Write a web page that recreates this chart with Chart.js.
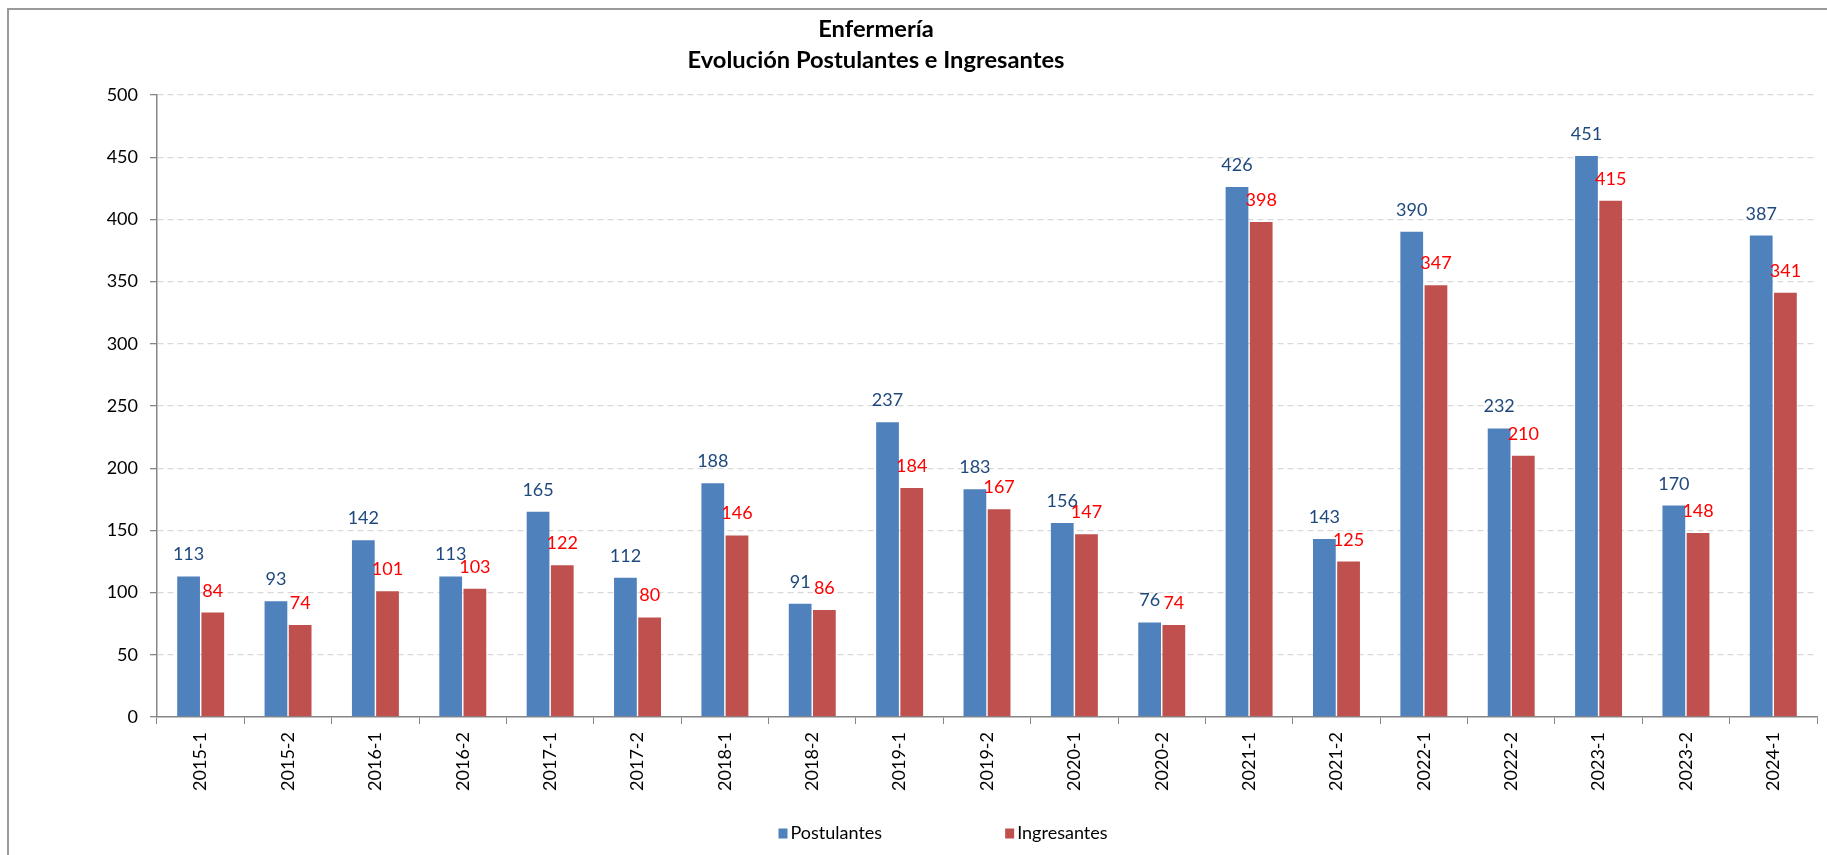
<!DOCTYPE html>
<html>
<head>
<meta charset="utf-8">
<script src="https://cdn.jsdelivr.net/npm/chart.js@4/dist/chart.umd.min.js"></script>
<style>
  html, body { margin: 0; padding: 0; background: #fff; }
  #wrap { position: relative; width: 1827px; height: 855px; }
</style>
</head>
<body>
<div id="wrap"><canvas id="c" width="1827" height="855"></canvas></div>
<script>
const categories = ['2015-1','2015-2','2016-1','2016-2','2017-1','2017-2','2018-1','2018-2','2019-1','2019-2','2020-1','2020-2','2021-1','2021-2','2022-1','2022-2','2023-1','2023-2','2024-1'];
const postulantes = [113, 93, 142, 113, 165, 112, 188, 91, 237, 183, 156, 76, 426, 143, 390, 232, 451, 170, 387];
const ingresantes = [84, 74, 101, 103, 122, 80, 146, 86, 184, 167, 147, 74, 398, 125, 347, 210, 415, 148, 341];
const seriesNames = ['Postulantes', 'Ingresantes'];
const titleLines = ['Enfermería', 'Evolución Postulantes e Ingresantes'];
const yMin = 0, yMax = 500, yStep = 50;

const FONT = 'Lato, "Noto Sans", sans-serif';
const barColors = ['#4F81BD', '#C0504D'];
const labelColors = ['#1F497D', '#FF0000'];

const framePlugin = {
  id: 'frame',
  beforeDraw(chart) {
    const ctx = chart.ctx;
    ctx.save();
    ctx.fillStyle = '#fff';
    ctx.fillRect(0, 0, chart.width, chart.height);
    ctx.strokeStyle = '#9a9a9a';
    ctx.lineWidth = 2;
    ctx.beginPath();
    ctx.moveTo(8, chart.height);
    ctx.lineTo(8, 9);
    ctx.lineTo(chart.width, 9);
    ctx.stroke();
    ctx.restore();
  }
};

const titlePlugin = {
  id: 'customTitle',
  afterDraw(chart) {
    const ctx = chart.ctx;
    ctx.save();
    ctx.fillStyle = '#000';
    ctx.textAlign = 'center';
    ctx.textBaseline = 'alphabetic';
    let size = 21;
    ctx.font = 'bold ' + size + 'px ' + FONT;
    const w = ctx.measureText(titleLines[1]).width;
    size = size * 377 / w;
    ctx.font = 'bold ' + size.toFixed(2) + 'px ' + FONT;
    ctx.fillText(titleLines[0], 876, 37);
    ctx.fillText(titleLines[1], 876, 68);
    ctx.restore();
  }
};

const labelPlugin = {
  id: 'valueLabels',
  afterDatasetsDraw(chart) {
    const ctx = chart.ctx;
    ctx.save();
    ctx.font = '18px ' + FONT;
    ctx.textAlign = 'center';
    ctx.textBaseline = 'alphabetic';
    chart.data.datasets.forEach((ds, di) => {
      const meta = chart.getDatasetMeta(di);
      ctx.fillStyle = labelColors[di];
      meta.data.forEach((el, i) => {
        ctx.fillText(String(ds.data[i]), el.x, el.y - 16);
      });
    });
    ctx.restore();
  }
};

const legendPlugin = {
  id: 'customLegend',
  afterDraw(chart) {
    const ctx = chart.ctx;
    ctx.save();
    ctx.font = '18px ' + FONT;
    ctx.textBaseline = 'middle';
    ctx.textAlign = 'left';
    const box = 9, boxGap = 3, itemGap = 123, cy = 833, cx = 943;
    const widths = chart.data.datasets.map(ds => box + boxGap + ctx.measureText(ds.label).width);
    const total = widths.reduce((a, b) => a + b, 0) + itemGap * (widths.length - 1);
    let x = cx - total / 2;
    chart.data.datasets.forEach((ds, i) => {
      ctx.fillStyle = ds.backgroundColor;
      ctx.fillRect(x, cy - box / 2, box, box + 1);
      ctx.fillStyle = '#000';
      ctx.fillText(ds.label, x + box + boxGap, cy);
      x += widths[i] + itemGap;
    });
    ctx.restore();
  }
};

new Chart(document.getElementById('c'), {
  type: 'bar',
  data: {
    labels: categories,
    datasets: [
      { label: seriesNames[0], data: postulantes, backgroundColor: barColors[0], borderWidth: 0 },
      { label: seriesNames[1], data: ingresantes, backgroundColor: barColors[1], borderWidth: 0 }
    ]
  },
  options: {
    responsive: false,
    animation: false,
    devicePixelRatio: 1,
    categoryPercentage: 0.554,
    barPercentage: 0.94,
    layout: { padding: { top: 95, right: 10, bottom: 38, left: 0 } },
    plugins: {
      legend: { display: false },
      title: { display: false },
      tooltip: { enabled: false }
    },
    scales: {
      x: {
        grid: { display: true, drawOnChartArea: false, drawTicks: true, tickLength: 7, color: '#868686', tickColor: '#868686', offset: true },
        border: { display: true, color: '#868686', width: 1.5 },
        ticks: { maxRotation: 90, minRotation: 90, autoSkip: false, padding: 8, color: '#000', font: { family: FONT, size: 18 } },
        afterFit(s) { s.height = 100; }
      },
      y: {
        min: yMin, max: yMax,
        ticks: { stepSize: yStep, padding: 12, color: '#000', font: { family: FONT, size: 18 } },
        grid: {
          color: (c) => (c.tick && c.tick.value === 0) ? 'rgba(0,0,0,0)' : '#D9D9D9',
          tickColor: '#868686', tickLength: 7, lineWidth: 1.3
        },
        border: { display: true, color: '#868686', width: 1.5, dash: [6, 4] },
        afterFit(s) { s.width = 157; }
      }
    }
  },
  plugins: [framePlugin, titlePlugin, labelPlugin, legendPlugin]
});
</script>
</body>
</html>
